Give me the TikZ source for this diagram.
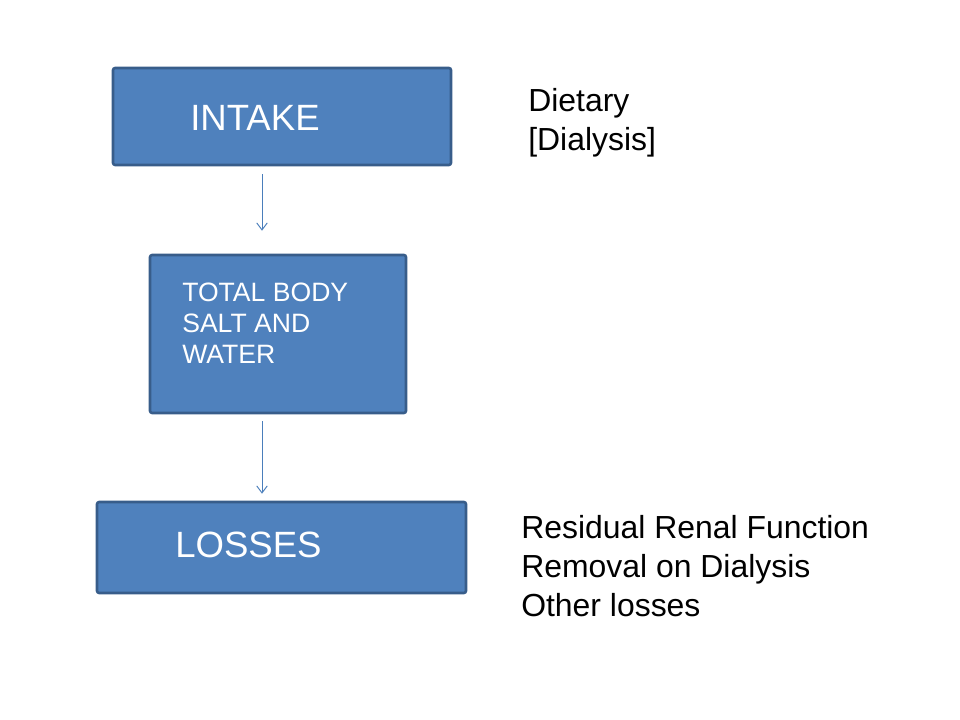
\documentclass[tikz,border=0pt]{standalone}
\usepackage{fontspec}
\setmainfont{Liberation Sans}
\usetikzlibrary{arrows.meta}

\definecolor{boxfill}{HTML}{4F81BD}
\definecolor{boxline}{HTML}{385D8A}
\definecolor{flowline}{HTML}{4A7EBB}

\begin{document}
\begin{tikzpicture}[x=0.025cm, y=-0.025cm,
box/.style={draw=boxline, fill=boxfill, line width=1.8pt, rounded corners=1.5pt, inner sep=0pt},
boxtext/.style={anchor=west, text=white, inner sep=0pt, font=\fontsize{26}{30}\selectfont},
smalltext/.style={anchor=north west, align=left, text=white, inner sep=0pt, font=\fontsize{18.9}{22}\selectfont},
note/.style={anchor=west, align=left, inner sep=0pt, font=\fontsize{22.7}{27.7}\selectfont},
flow/.style={draw=flowline, line width=0.7pt, -{Straight Barb[length=5pt,width=7.5pt]}}]
\useasboundingbox (0,0) rectangle (960,720);
%================================================================
% Boxes
\node[box, minimum width=338*0.025cm, minimum height=97*0.025cm] (intake) at (282,116.5) {};
\node[boxtext] (intakelbl) at (190,118) {INTAKE};

\node[box, minimum width=256*0.025cm, minimum height=158*0.025cm] (body) at (278,334) {};
\node[smalltext] (bodylbl) at (182,283) {TOTAL BODY\\SALT AND\\WATER};

\node[box, minimum width=369*0.025cm, minimum height=91*0.025cm] (losses) at (281.5,547.5) {};
\node[boxtext] (losseslbl) at (175,545) {LOSSES};

%================================================================
% Arrows
\draw[flow] ([shift={(-20,8)}]intake.south) -- ([shift={(-16,-23)}]body.north);
\draw[flow] ([shift={(-16,7)}]body.south) -- ([shift={(-19.5,-7)}]losses.north);

%================================================================
% Notes
\node[note] (intakenote) at (528,123) {Dietary\\{[Dialysis]}};
\node[note] (lossesnote) at (521,566) {Residual Renal Function\\Removal on Dialysis\\Other losses};

%================================================================
\end{tikzpicture}
\end{document}
